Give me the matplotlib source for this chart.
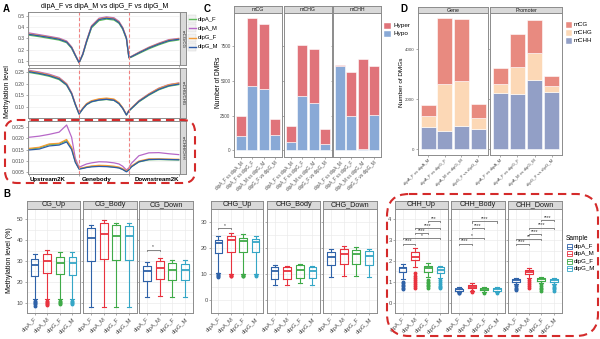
import matplotlib
matplotlib.use('Agg')
import matplotlib.pyplot as plt
from matplotlib.patches import FancyBboxPatch, Rectangle

plt.rcParams['font.family'] = ['Liberation Sans', 'DejaVu Sans']

W, H = 600, 339

# ---------------- data: panel A (metaplot, bins 0-60) ----------------
samples = ['dipA_F', 'dipA_M', 'dipG_F', 'dipG_M']
a_colors = ['#5DBB5A', '#B768C8', '#F39B35', '#2C5AA8']
a_bins = [0, 4, 8, 12, 15, 17, 18.5, 20, 21.5, 23, 25, 28, 31, 34, 36, 37.5, 39, 40, 41, 44, 48, 52, 56, 60]

cg_lines = [
    [0.328, 0.315, 0.300, 0.285, 0.262, 0.212, 0.146, 0.083, 0.155, 0.265, 0.393, 0.457, 0.470, 0.462, 0.433, 0.381, 0.294, 0.127, 0.134, 0.166, 0.208, 0.243, 0.273, 0.286],
    [0.348, 0.333, 0.318, 0.302, 0.277, 0.226, 0.156, 0.088, 0.166, 0.281, 0.412, 0.478, 0.490, 0.482, 0.451, 0.397, 0.308, 0.134, 0.142, 0.178, 0.222, 0.258, 0.289, 0.300],
    [0.339, 0.326, 0.312, 0.296, 0.271, 0.221, 0.152, 0.086, 0.162, 0.276, 0.406, 0.471, 0.483, 0.475, 0.444, 0.392, 0.303, 0.131, 0.140, 0.175, 0.219, 0.254, 0.284, 0.296],
    [0.335, 0.322, 0.308, 0.292, 0.268, 0.218, 0.150, 0.085, 0.160, 0.272, 0.402, 0.466, 0.478, 0.470, 0.440, 0.388, 0.300, 0.130, 0.138, 0.172, 0.215, 0.250, 0.280, 0.292],
]
chg_lines = [
    [0.247, 0.240, 0.231, 0.217, 0.193, 0.156, 0.110, 0.071, 0.093, 0.111, 0.123, 0.130, 0.133, 0.129, 0.115, 0.095, 0.067, 0.084, 0.094, 0.123, 0.151, 0.174, 0.189, 0.196],
    [0.256, 0.249, 0.240, 0.226, 0.200, 0.162, 0.115, 0.074, 0.096, 0.114, 0.126, 0.133, 0.136, 0.132, 0.117, 0.097, 0.069, 0.087, 0.097, 0.128, 0.157, 0.181, 0.196, 0.203],
    [0.253, 0.246, 0.237, 0.223, 0.198, 0.160, 0.114, 0.074, 0.097, 0.116, 0.128, 0.136, 0.139, 0.135, 0.120, 0.099, 0.070, 0.087, 0.097, 0.127, 0.156, 0.180, 0.195, 0.202],
    [0.250, 0.243, 0.234, 0.220, 0.195, 0.158, 0.112, 0.072, 0.094, 0.112, 0.124, 0.131, 0.134, 0.130, 0.116, 0.096, 0.068, 0.085, 0.095, 0.125, 0.153, 0.176, 0.191, 0.198],
]
chh_lines = [
    [0.0152, 0.0157, 0.0172, 0.0175, 0.0190, 0.0156, 0.0095, 0.0063, 0.0066, 0.0070, 0.0074, 0.0076, 0.0075, 0.0072, 0.0068, 0.0061, 0.0051, 0.0059, 0.0073, 0.0094, 0.0104, 0.0105, 0.0104, 0.0103],
    [0.0205, 0.0210, 0.0218, 0.0228, 0.0260, 0.0205, 0.0110, 0.0070, 0.0078, 0.0085, 0.0090, 0.0095, 0.0094, 0.0090, 0.0085, 0.0075, 0.0058, 0.0068, 0.0088, 0.0122, 0.0135, 0.0136, 0.0131, 0.0127],
    [0.0155, 0.0160, 0.0175, 0.0178, 0.0195, 0.0160, 0.0098, 0.0065, 0.0068, 0.0072, 0.0076, 0.0079, 0.0078, 0.0075, 0.0071, 0.0064, 0.0054, 0.0062, 0.0076, 0.0098, 0.0108, 0.0108, 0.0107, 0.0106],
    [0.0148, 0.0152, 0.0166, 0.0170, 0.0184, 0.0150, 0.0092, 0.0062, 0.0065, 0.0069, 0.0072, 0.0074, 0.0073, 0.0070, 0.0067, 0.0060, 0.0050, 0.0058, 0.0072, 0.0095, 0.0105, 0.0106, 0.0105, 0.0104],
]

# ---------------- data: panel C (DMRs) ----------------
comparisons = ['dipA_F vs dipA_M', 'dipA_F vs dipG_F', 'dipA_M vs dipG_M', 'dipG_F vs dipG_M']
c_contexts = ['mCG', 'mCHG', 'mCHH']
c_hypo = [[1030, 4660, 4390, 1080], [630, 3940, 3390, 480], [6030, 2450, 100, 2520]]
c_hyper = [[1470, 4830, 4660, 1200], [1100, 3620, 3910, 1080], [140, 3150, 6480, 3530]]

# ---------------- data: panel D (DMGs) ----------------
d_regions = ['Gene', 'Promoter']
d_mchh = [[880, 745, 920, 810], [2250, 2210, 2770, 2300]]
d_mchg = [[465, 1880, 1800, 440], [350, 1080, 1070, 230]]
d_mcg = [[440, 2640, 2480, 560], [665, 1320, 1320, 400]]

# ---------------- data: panel B (boxplots: lo, q1, med, q3, hi) ----------------
b_colors = ['#2F62A8', '#E8333F', '#3FAA48', '#35A6C6']

cg_up = [(11.5, 22.7, 28.1, 30.8, 33.4), (11.8, 24.3, 29.8, 33.2, 35.5), (11.8, 23.6, 28.9, 32.0, 34.3), (11.6, 23.4, 28.9, 32.0, 34.4)]
cg_up_out = [[10.8, 10.2, 9.6, 9.1, 8.6], [11.0, 10.4, 9.8, 9.2, 8.8], [11.0, 10.4, 9.8, 9.3], [10.9, 10.3, 9.7, 9.2]]
cg_body = [(7.8, 29.8, 41.2, 46.0, 47.5), (8.0, 31.0, 43.0, 48.3, 49.6), (8.1, 30.5, 42.0, 47.2, 48.5), (8.0, 30.4, 42.0, 47.0, 48.5)]
cg_down = [(12.5, 20.3, 25.2, 27.8, 29.5), (13.2, 21.5, 26.8, 29.8, 31.3), (12.8, 20.9, 25.9, 28.8, 30.3), (12.8, 21.0, 25.8, 28.7, 30.3)]

chg_up = [(10.3, 18.1, 22.0, 23.1, 24.5), (10.1, 18.6, 23.2, 24.5, 25.7), (10.1, 18.6, 22.7, 23.9, 25.2), (10.0, 18.3, 22.3, 23.4, 24.8)]
chg_up_out = [[9.9, 9.5, 9.1, 8.7], [9.7, 9.4, 9.1], [9.7, 9.4, 9.1], [9.6, 9.3]]
chg_body = [(5.9, 8.2, 11.2, 12.8, 13.3), (5.9, 8.2, 11.0, 12.7, 13.1), (6.4, 8.6, 11.5, 13.3, 13.7), (5.9, 8.3, 11.2, 12.8, 13.1)]
chg_down = [(8.8, 13.3, 16.7, 18.6, 19.7), (9.3, 13.8, 17.8, 19.7, 20.7), (9.3, 13.7, 17.6, 19.4, 20.2), (8.8, 13.5, 17.1, 18.8, 19.7)]

chh_up = [(1.12, 1.47, 1.64, 1.73, 1.85), (1.69, 2.04, 2.20, 2.42, 2.63), (1.22, 1.47, 1.64, 1.76, 1.92), (1.19, 1.43, 1.59, 1.69, 1.76)]
chh_up_out = [[1.0, 0.92, 0.85, 0.78, 0.72, 0.66], [1.42, 1.3, 1.2, 1.1, 1.0, 0.9, 0.8, 0.72],
              [1.1, 1.0, 0.92, 0.85, 0.78, 0.7], [1.1, 1.0, 0.9, 0.82, 0.75, 0.68]]
chh_body = [(0.49, 0.56, 0.63, 0.67, 0.73), (0.56, 0.70, 0.77, 0.87, 0.94), (0.49, 0.59, 0.66, 0.70, 0.74), (0.50, 0.58, 0.65, 0.69, 0.73)]
chh_body_out = [[0.47, 0.45], [0.54, 0.52], [0.47], [0.48]]
chh_down = [(0.91, 1.01, 1.08, 1.14, 1.19), (1.19, 1.36, 1.47, 1.59, 1.64), (0.94, 1.05, 1.12, 1.18, 1.22), (0.91, 1.0, 1.07, 1.12, 1.17)]
chh_down_out = [[0.85, 0.78, 0.72, 0.66, 0.6], [1.1, 1.0, 0.9, 0.8, 0.7], [0.88, 0.8, 0.72, 0.64, 0.58], [0.85, 0.77, 0.7, 0.63, 0.57]]

sig_cg_down = [(1, 2, 35.5, '*')]
sig_chg_up = [(1, 2, 27.7, '*')]
sig_chh_up = [(1, 2, 2.84, '****'), (1, 4, 3.09, '*'), (2, 3, 3.33, '****'), (2, 4, 3.58, '****'), (3, 4, 3.93, '***')]
sig_chh_body = [(1, 2, 2.84, '****'), (1, 3, 3.09, '*'), (2, 3, 3.58, '****'), (2, 4, 3.9, '****')]
sig_chh_down = [(1, 2, 2.81, '****'), (1, 3, 3.05, '**'), (2, 3, 3.3, '****'), (2, 4, 3.6, '****'), (3, 4, 3.96, '****')]

fig = plt.figure(figsize=(6, 3.39), dpi=100)
BORDER = '#8C8C8C'
TICKC = '#4D4D4D'


def px_axes(x0, y0, x1, y1):
    return fig.add_axes([x0 / W, 1 - y1 / H, (x1 - x0) / W, (y1 - y0) / H])


def style(ax, fs=4):
    for sp in ax.spines.values():
        sp.set_color(BORDER)
        sp.set_linewidth(0.7)
    ax.tick_params(length=1.5, width=0.5, color=BORDER, labelsize=fs, labelcolor=TICKC, pad=1)


def strip(x0, y0, x1, y1, label, fs, rot=0):
    s = px_axes(x0, y0, x1, y1)
    s.set_facecolor('#D9D9D9')
    s.set_xticks([])
    s.set_yticks([])
    for sp in s.spines.values():
        sp.set_color(BORDER)
        sp.set_linewidth(0.7)
    s.text(0.5, 0.5, label, ha='center', va='center', fontsize=fs, rotation=rot,
           color='#1A1A1A', transform=s.transAxes)


# ---------------- panel A ----------------
a_rows = [(12, 65), (68, 118), (121, 174)]
a_ylims = [(0.065, 0.533), (0.055, 0.266), (0.004, 0.0278)]
a_yticks = [[0.1, 0.2, 0.3, 0.4, 0.5], [0.10, 0.15, 0.20, 0.25], [0.005, 0.010, 0.015, 0.020, 0.025]]
a_fmt = ['%.1f', '%.2f', '%.3f']
a_strips = ['mCG/CG', 'mCHG/CHG', 'mCHH/CHH']
for i, prof in enumerate([cg_lines, chg_lines, chh_lines]):
    y0, y1 = a_rows[i]
    ax = px_axes(28, y0, 180, y1)
    ax.grid(color='#EBEBEB', lw=0.4)
    ax.set_axisbelow(True)
    for vals, c in zip(prof, a_colors):
        ax.plot(a_bins, vals, color=c, lw=0.9)
    for xv in (20, 40):
        ax.axvline(xv, color='#F08080', ls='--', lw=0.8, dashes=(3, 2))
    ax.set_xlim(-0.5, 60.5)
    ax.set_ylim(*a_ylims[i])
    ax.set_yticks(a_yticks[i])
    ax.set_yticklabels([a_fmt[i] % v for v in a_yticks[i]])
    ax.set_xticks([0, 20, 40, 60])
    ax.set_xticklabels([])
    style(ax, 3.6)
    strip(180, y0, 186, y1, a_strips[i], 3.2, rot=-90)
    if i == 2:
        tr = ax.get_xaxis_transform()
        ax.text(0, -0.06, 'Upstream2K', transform=tr, ha='left', va='top', fontsize=4.4, fontweight='bold')
        ax.text(27, -0.06, 'Genebody', transform=tr, ha='center', va='top', fontsize=4.4, fontweight='bold')
        ax.text(60, -0.06, 'Downstream2K', transform=tr, ha='right', va='top', fontsize=4.4, fontweight='bold')

# ---------------- panel C ----------------
c_cols = [(234, 282), (284, 332), (333, 381)]
for j, ctx in enumerate(c_contexts):
    x0, x1 = c_cols[j]
    ax = px_axes(x0, 13, x1, 157)
    pos = range(1, 5)
    ax.bar(pos, c_hypo[j], width=0.9, color='#89A9D6', edgecolor='white', lw=0.4)
    ax.bar(pos, c_hyper[j], bottom=c_hypo[j], width=0.9, color='#E0737A', edgecolor='white', lw=0.4)
    ax.set_xlim(0.4, 4.6)
    ax.set_ylim(-470, 9870)
    ax.set_yticks([0, 2500, 5000, 7500])
    if j > 0:
        ax.set_yticklabels([])
    ax.set_xticks(list(pos))
    ax.set_xticklabels(comparisons, rotation=45, ha='right', rotation_mode='anchor')
    style(ax, 3.3)
    strip(x0, 6, x1, 13, ctx, 3.8)

# ---------------- panel D ----------------
d_cols = [(418, 488), (490, 562)]
for j, reg in enumerate(d_regions):
    x0, x1 = d_cols[j]
    ax = px_axes(x0, 13, x1, 155)
    pos = range(1, 5)
    b2 = [a + b for a, b in zip(d_mchh[j], d_mchg[j])]
    ax.bar(pos, d_mchh[j], width=0.9, color='#929FC6', edgecolor='white', lw=0.4)
    ax.bar(pos, d_mchg[j], bottom=d_mchh[j], width=0.9, color='#FCD8B6', edgecolor='white', lw=0.4)
    ax.bar(pos, d_mcg[j], bottom=b2, width=0.9, color='#E88A80', edgecolor='white', lw=0.4)
    ax.set_xlim(0.4, 4.6)
    ax.set_ylim(-230, 5450)
    ax.set_yticks([0, 2000, 4000])
    if j > 0:
        ax.set_yticklabels([])
    ax.set_xticks(list(pos))
    ax.set_xticklabels(comparisons, rotation=45, ha='right', rotation_mode='anchor')
    style(ax, 3.2)
    strip(x0, 7, x1, 13, reg, 3.8)


# ---------------- panel B ----------------
def draw_facet(x0, x1, title, stats, outs, sig, ylim, yticks, show_y):
    ax = px_axes(x0, 209, x1, 313)
    ax.grid(which='both', color='#EBEBEB', lw=0.5)
    ax.set_axisbelow(True)
    for k, (st, c) in enumerate(zip(stats, b_colors)):
        lo, q1, med, q3, hi = st
        fl = outs[k] if outs else []
        ax.bxp([dict(whislo=lo, q1=q1, med=med, q3=q3, whishi=hi, fliers=fl)],
               positions=[k + 1], widths=0.62, capwidths=0.32,
               boxprops=dict(color=c, lw=0.8), whiskerprops=dict(color=c, lw=0.8),
               capprops=dict(color=c, lw=0.8), medianprops=dict(color=c, lw=1.3),
               flierprops=dict(marker='o', markerfacecolor=c, markeredgecolor=c, markersize=1.8, lw=0))
    h = (ylim[1] - ylim[0]) * 0.012
    for a, b, y, lab in sig:
        ax.plot([a, a, b, b], [y - h, y, y, y - h], color='#555555', lw=0.5)
        ax.text((a + b) / 2, y + h * 0.3, lab, ha='center', va='bottom', fontsize=3.5, color='#333333')
    ax.set_xlim(0.4, 4.6)
    ax.set_ylim(*ylim)
    ax.set_yticks(yticks)
    step = yticks[1] - yticks[0]
    ax.set_yticks([v + step / 2 for v in [yticks[0] - step] + yticks], minor=True)
    if not show_y:
        ax.set_yticklabels([])
    ax.set_xticks([1, 2, 3, 4])
    ax.set_xticklabels(samples, rotation=45, ha='right', rotation_mode='anchor')
    style(ax, 4.2)
    ax.tick_params(which='minor', length=0)
    strip(x0, 201, x1, 209, title, 5.2)


cg_lim, chg_lim, chh_lim = (5.7, 52.1), (-1.5, 31.6), (-0.2, 4.13)
draw_facet(27, 80, 'CG_Up', cg_up, cg_up_out, [], cg_lim, [10, 20, 30, 40, 50], True)
draw_facet(83, 137, 'CG_Body', cg_body, None, [], cg_lim, [10, 20, 30, 40, 50], False)
draw_facet(139, 193, 'CG_Down', cg_down, None, sig_cg_down, cg_lim, [10, 20, 30, 40, 50], False)
draw_facet(211, 263, 'CHG_Up', chg_up, chg_up_out, sig_chg_up, chg_lim, [0, 10, 20, 30], True)
draw_facet(267, 320, 'CHG_Body', chg_body, None, [], chg_lim, [0, 10, 20, 30], False)
draw_facet(323, 377, 'CHG_Down', chg_down, None, [], chg_lim, [0, 10, 20, 30], False)
draw_facet(395, 448, 'CHH_Up', chh_up, chh_up_out, sig_chh_up, chh_lim, [0, 1, 2, 3, 4], True)
draw_facet(451, 505, 'CHH_Body', chh_body, chh_body_out, sig_chh_body, chh_lim, [0, 1, 2, 3, 4], False)
draw_facet(508, 562, 'CHH_Down', chh_down, chh_down_out, sig_chh_down, chh_lim, [0, 1, 2, 3, 4], False)

# ---------------- overlay: labels, legends, highlight boxes ----------------
ov = fig.add_axes([0, 0, 1, 1])
ov.set_xlim(0, W)
ov.set_ylim(H, 0)
ov.axis('off')
ov.patch.set_alpha(0)

for lab, x, y in [('A', 3, 9), ('B', 3, 194), ('C', 204, 9), ('D', 400, 9)]:
    ov.text(x, y, lab, fontsize=7, fontweight='bold', va='center')
ov.text(105, 6, 'dipA_F vs dipA_M vs dipG_F vs dipG_M', fontsize=5, ha='center', va='center')
ov.text(8, 92, 'Methylation level', fontsize=5, rotation=90, ha='center', va='center')
ov.text(10, 260, 'Methylation level (%)', fontsize=5, rotation=90, ha='center', va='center')
ov.text(218, 82, 'Number of DMRs', fontsize=4.8, rotation=90, ha='center', va='center')
ov.text(401.5, 82, 'Number of DMGs', fontsize=4.6, rotation=90, ha='center', va='center')

# legend A
for k, (s, c) in enumerate(zip(samples, a_colors)):
    yc = 19 + k * 9.3
    ov.add_patch(Rectangle((188, yc - 4), 8, 8, fc='#F2F2F2', ec='#D0D0D0', lw=0.3))
    ov.plot([188.5, 195.5], [yc, yc], color=c, lw=1.0)
    ov.text(198, yc, s, fontsize=4.2, va='center')

# legend C
for k, (s, c) in enumerate(zip(['Hyper', 'Hypo'], ['#E0737A', '#89A9D6'])):
    yc = 25.5 + k * 8
    ov.add_patch(Rectangle((384, yc - 3), 7, 6, fc=c, ec='white', lw=0.3))
    ov.text(393, yc, s, fontsize=4.6, va='center')

# legend D
for k, (s, c) in enumerate(zip(['mCG', 'mCHG', 'mCHH'], ['#E88A80', '#FCD8B6', '#929FC6'])):
    yc = 24.5 + k * 8
    ov.add_patch(Rectangle((566, yc - 3), 6, 6, fc=c, ec='white', lw=0.3))
    ov.text(574, yc, s, fontsize=4.4, va='center')

# legend B
ov.text(566, 238, 'Sample', fontsize=4.8, va='center')
for k, (s, c) in enumerate(zip(samples, b_colors)):
    yc = 246.5 + k * 7.3
    ov.add_patch(Rectangle((567, yc - 2.5), 5, 5, fc='white', ec=c, lw=0.6))
    ov.plot([567, 572], [yc, yc], color=c, lw=0.6)
    ov.text(574, yc, s, fontsize=4.4, va='center')

# red dashed highlight boxes
for (x, y, w, h, r) in [(5, 120, 190, 63, 12), (387, 194, 211, 142, 22)]:
    ov.add_patch(FancyBboxPatch((x, y), w, h, boxstyle='round,pad=0,rounding_size=%d' % r,
                                fc='none', ec='#D42A2A', lw=1.5, ls=(0, (4, 2.5))))

fig.savefig('out.png', dpi=100)
